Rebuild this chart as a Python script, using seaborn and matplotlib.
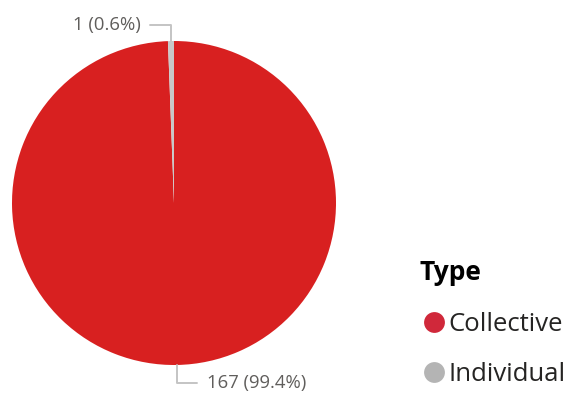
import matplotlib
matplotlib.use("Agg")
import matplotlib.pyplot as plt
from matplotlib.lines import Line2D
import seaborn as sns
import numpy as np

categories = ["Collective", "Individual"]
values = [167, 1]
colors = ["#D82020", "#C8C8C8"]
legend_title = "Type"

sns.set_theme(style="white")
plt.rcParams['font.family'] = ['Open Sans', 'DejaVu Sans']

fig = plt.figure(figsize=(5.67, 3.94), dpi=100)
ax = fig.add_axes([12/567, (394-365)/394, 324/567, 324/394])
total = sum(values)
wedges, _ = ax.pie(values, colors=colors, startangle=90, counterclock=False,
                   wedgeprops=dict(linewidth=0))
ax.set_xlim(-1, 1)
ax.set_ylim(-1, 1)
ax.set_aspect('equal')
ax.axis('off')

lc = "#C4C4C4"
tc = "#605E5C"
for w, v in zip(wedges, values):
    ang = np.deg2rad((w.theta1 + w.theta2) / 2)
    x0, y0 = np.cos(ang), np.sin(ang)
    label = f"{v} ({v/total*100:.1f}%)"
    if y0 > 0:
        yk = (203 - 25) / 162
        xe = (150 - 174) / 162
        ax.plot([x0, x0, xe], [y0, yk, yk], color=lc, lw=1.4, clip_on=False)
        ax.text((141 - 174) / 162, yk, label, ha='right', va='center', color=tc, fontsize=13.3)
    else:
        yk = (203 - 383) / 162
        xe = (197 - 174) / 162
        ax.plot([x0, x0, xe], [y0, yk, yk], color=lc, lw=1.4, clip_on=False)
        ax.text((207 - 174) / 162, yk, label, ha='left', va='center', color=tc, fontsize=13.3)

handles = [Line2D([], [], marker='o', linestyle='', markersize=15, markerfacecolor=c,
                  markeredgewidth=0) for c in ["#D0283A", "#B4B4B4"]]
leg = fig.legend(handles, categories, title=legend_title, loc='upper left',
                 bbox_to_anchor=(407/567, 1 - 246/394), frameon=False,
                 fontsize=18.5, title_fontproperties={'weight': 'bold', 'size': 19},
                 handletextpad=0.0, labelspacing=1.0, borderpad=0, handlelength=1.1,
                 alignment='left')
for t in leg.get_texts():
    t.set_color("#252423")
leg.get_title().set_color("#000000")

fig.savefig("out.png", dpi=100)
